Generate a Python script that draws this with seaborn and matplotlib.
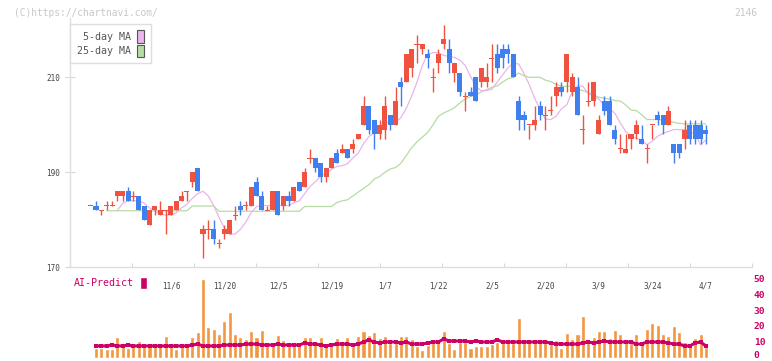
import numpy as np
import pandas as pd
import seaborn as sns
import matplotlib.pyplot as plt
import matplotlib.transforms as mtransforms
from matplotlib.patches import Patch

# daily candles, oldest first
opens = [183, 183, 182, 183, 183, 185, 185, 186, 185, 185, 183, 179, 182, 181, 182, 181, 182, 184, 186, 188,
         191, 177, 178, 178, 175, 177, 177, 181, 183, 183, 183, 188, 185, 182, 182, 186, 183, 185, 184, 188,
         187, 193, 193, 192, 189, 191, 194, 194, 195, 195, 197, 200, 204, 201, 198, 199, 202, 200, 209, 209,
         212, 217, 216, 215, 210, 213, 217, 216, 211, 211, 206, 207, 210, 209, 209, 214, 215, 216, 216, 215,
         205, 202, 200, 200, 204, 202, 203, 206, 208, 209, 207, 208, 199, 205, 205, 198, 205, 205, 199, 195,
         194, 197, 198, 197, 195, 200, 202, 202, 200, 196, 196, 197, 200, 200, 200, 199]
highs = [183, 184, 182, 184, 184, 186, 186, 187, 186, 185, 183, 182, 183, 184, 182, 183, 184, 186, 186, 190,
         191, 179, 180, 180, 176, 179, 180, 183, 184, 184, 187, 189, 186, 183, 186, 186, 185, 186, 187, 188,
         191, 195, 193, 192, 191, 193, 195, 196, 195, 197, 198, 206, 204, 201, 201, 206, 202, 208, 210, 215,
         216, 219, 217, 216, 212, 216, 221, 218, 213, 211, 207, 208, 210, 212, 213, 217, 217, 217, 217, 215,
         206, 203, 200, 204, 205, 204, 206, 209, 209, 215, 211, 210, 202, 209, 209, 202, 206, 206, 200, 198,
         198, 198, 201, 200, 196, 200, 203, 202, 204, 196, 196, 201, 201, 201, 201, 200]
lows = [183, 182, 181, 182, 183, 184, 184, 184, 184, 182, 180, 179, 181, 181, 177, 181, 182, 184, 184, 187,
        186, 172, 176, 175, 174, 176, 177, 180, 181, 182, 183, 185, 182, 182, 182, 181, 182, 183, 184, 186,
        187, 192, 190, 188, 188, 191, 192, 194, 193, 194, 197, 200, 198, 195, 197, 197, 199, 200, 204, 209,
        210, 213, 215, 212, 207, 211, 216, 211, 209, 206, 203, 206, 205, 208, 208, 209, 211, 212, 213, 210,
        199, 199, 197, 199, 201, 199, 202, 204, 206, 207, 206, 202, 196, 204, 204, 198, 202, 200, 196, 194,
        194, 195, 197, 196, 192, 197, 200, 198, 200, 192, 193, 195, 196, 196, 196, 196]
closes = [183, 182, 182, 183, 183, 186, 186, 184, 185, 182, 180, 182, 183, 182, 182, 183, 184, 185, 186, 190,
          186, 178, 178, 176, 175, 178, 180, 181, 182, 183, 187, 185, 182, 182, 186, 181, 185, 184, 187, 186,
          190, 193, 191, 189, 191, 193, 192, 195, 193, 196, 198, 204, 199, 198, 200, 204, 200, 205, 208, 215,
          216, 217, 217, 214, 210, 215, 218, 213, 213, 207, 206, 206, 205, 212, 210, 214, 212, 214, 215, 210,
          201, 201, 200, 201, 202, 202, 203, 208, 207, 215, 210, 202, 199, 205, 209, 201, 203, 200, 197, 195,
          195, 198, 200, 196, 195, 200, 201, 200, 203, 194, 194, 199, 197, 197, 197, 198]

# moving averages as drawn (5-day starts at day 5, 25-day at day 3)
ma5 = [182.0, 183.5, 184.0, 184.0, 184.0, 183.5, 182.5, 181.8, 181.2, 181.0, 181.0, 181.5, 182.5, 183.3, 184.5,
       185.5, 186.0, 185.0, 183.0, 180.5, 178.2, 177.0, 177.0, 178.0, 179.5, 181.5, 182.8, 183.0, 183.0, 183.0,
       183.0, 183.0, 183.0, 183.6, 184.0, 185.5, 187.0, 188.0, 189.2, 189.8, 190.6, 191.2, 191.4, 191.8, 193.0,
       194.0, 196.0, 197.5, 198.3, 199.5, 200.5, 200.5, 200.5, 201.5, 203.5, 206.0, 209.0, 212.5, 214.8, 215.2,
       215.2, 214.6, 214.4, 214.2, 213.6, 212.5, 210.2, 208.0, 207.2, 207.2, 207.5, 209.0, 210.5, 212.0, 213.0,
       212.8, 210.8, 208.4, 205.6, 203.2, 201.2, 201.1, 201.8, 203.4, 204.2, 207.0, 208.2, 208.1, 206.6, 206.0,
       205.4, 204.0, 203.4, 202.4, 200.4, 198.6, 197.6, 197.2, 196.8, 195.8, 196.6, 197.6, 198.2, 198.6, 199.0,
       199.0, 199.0, 198.6, 198.0, 195.8, 196.8]
ma25 = [181.9] * 16 + [182.9] * 5 + [181.8] * 16 + [182.8] * 6 + [
        183.6, 184.0, 184.2, 185.0, 185.8, 186.6, 187.4, 188.6, 189.1, 190.0, 190.7, 191.0, 191.9, 193.5, 195.2,
        196.4, 197.4, 198.4, 200.0, 201.8, 202.5, 203.0, 203.6, 204.6, 205.4, 206.0, 206.3, 206.9, 207.4, 207.9,
        208.2, 209.0, 209.7, 210.0, 210.9, 210.3, 210.0, 210.0, 210.0, 209.4, 209.1, 208.5, 208.1, 208.1, 208.1,
        207.5, 207.2, 206.8, 206.3, 205.8, 205.6, 205.4, 205.1, 205.0, 204.2, 203.1, 203.0, 202.1, 201.1, 201.1,
        201.1, 201.0, 200.9, 200.5, 200.3, 200.2, 200.2, 200.2, 200.2, 200.2]

# lower panel, from day 1
volume = [6.1, 6.1, 5.5, 5.5, 13.1, 8.0, 6.1, 8.0, 10.5, 9.3, 7.4, 7.4, 7.4, 13.7, 7.4, 5.5, 7.4, 7.4, 13.1, 16.2,
          49.6, 19.4, 18.1, 15.0, 23.2, 28.8, 15.0, 13.1, 11.8, 16.8, 13.1, 17.5, 9.9, 8.6, 14.3, 11.2, 7.4, 8.6,
          8.6, 13.1, 13.1, 9.9, 13.1, 7.4, 9.3, 12.4, 9.9, 13.1, 7.4, 13.7, 16.8, 14.3, 16.2, 12.4, 13.7, 9.3,
          9.9, 13.7, 13.7, 11.8, 7.4, 4.9, 8.0, 9.9, 9.9, 16.8, 9.3, 5.5, 9.9, 9.9, 6.1, 7.4, 7.4, 7.4, 8.6, 9.9,
          9.9, 9.9, 9.3, 25.0, 9.9, 11.8, 9.9, 9.9, 9.9, 9.9, 11.2, 6.1, 15.6, 11.8, 15.0, 26.3, 11.8, 13.1, 16.8,
          16.8, 12.4, 17.5, 15.0, 10.5, 9.3, 15.0, 9.3, 18.1, 22.1, 20.6, 15.0, 13.7, 20.0, 16.2, 9.9, 8.6, 12.4,
          15.0, 6.7]
ai_predict = [7.4, 7.4, 7.4, 8.0, 7.4, 7.4, 8.0, 7.4, 7.4, 7.4, 7.4, 7.4, 7.4, 7.4, 7.4, 7.4, 7.4, 7.4, 8.0, 8.6,
              7.4, 7.4, 7.4, 7.4, 8.0, 8.0, 8.0, 8.0, 8.6, 8.6, 8.6, 8.0, 8.0, 8.0, 8.6, 8.0, 8.0, 8.0, 8.0, 9.3,
              8.6, 8.6, 8.0, 7.4, 8.0, 8.6, 8.6, 8.6, 8.0, 8.6, 9.9, 11.2, 9.9, 9.3, 9.9, 9.9, 9.9, 9.3, 9.9, 8.6,
              8.6, 8.6, 9.3, 9.9, 9.9, 11.8, 10.5, 10.5, 10.5, 10.5, 9.9, 10.5, 9.9, 9.9, 9.9, 11.2, 9.9, 9.9, 9.9,
              9.9, 9.9, 9.9, 9.9, 9.9, 9.9, 9.3, 8.6, 8.6, 8.6, 8.6, 8.6, 9.3, 9.9, 9.3, 9.9, 10.5, 9.9, 9.9, 9.9,
              9.9, 9.9, 8.6, 8.6, 9.9, 9.9, 9.9, 9.9, 9.3, 8.6, 8.6, 7.4, 7.4, 9.3, 9.9, 7.4]

date_labels = ["11/6", "11/20", "12/5", "12/19", "1/7", "1/22", "2/5", "2/20", "3/9", "3/24", "4/7"]
label_days = [15, 25, 35, 45, 55, 65, 75, 85, 95, 105, 115]

RED = "#f0523f"
BLUE = "#3f7ff0"
PINK = "#e9b5ea"
GREEN = "#b5dca5"
ORANGE = "#f2963f"
MAGENTA = "#cc0066"
MONO = ["DejaVu Sans Mono"]

sns.set_theme(style="white")
plt.rcParams["font.family"] = MONO

n = len(opens)
days = np.arange(n)
o, h, l, c = map(np.array, (opens, highs, lows, closes))

W, H = 772, 361
fig = plt.figure(figsize=(W / 100, H / 100), dpi=100)
fig.patch.set_facecolor("white")
ax = fig.add_axes([70.3 / W, 1 - 267.3 / H, 682 / W, 249.3 / H])
ax2 = fig.add_axes([70.3 / W, 1 - 357.7 / H, 682 / W, 79.4 / H])
xlim = ((70.3 - 90.65) / 5.35, (752.3 - 90.65) / 5.35)

# moving averages
ma5_df = pd.DataFrame({"day": days[n - len(ma5):], "ma": ma5})
ma25_df = pd.DataFrame({"day": days[n - len(ma25):], "ma": ma25})
sns.lineplot(data=ma25_df, x="day", y="ma", color=GREEN, linewidth=0.9, ax=ax, zorder=1)
sns.lineplot(data=ma5_df, x="day", y="ma", color=PINK, linewidth=0.9, ax=ax, zorder=1)

# candles
up = c >= o
cols = np.where(up, RED, BLUE)
ax.vlines(days, l, h, colors=cols, linewidth=1, zorder=2)
body = np.abs(c - o).astype(float)
bottom = np.minimum(o, c).astype(float)
doji = body == 0
body[doji] = 0.22
bottom[doji] -= 0.11
ax.bar(days, body, bottom=bottom, width=0.95, color=cols, linewidth=0, zorder=3)

ax.set_xlim(*xlim)
ax.set_ylim(170, 170 + 249.3 / 4.75)
ax.set_xlabel("")
ax.set_ylabel("")
ax.set_yticks([170, 190, 210])
ax.tick_params(axis="y", direction="inout", length=6.5, width=0.8, color="#d8d8d8",
               labelsize=5.5, labelcolor="#444444", pad=4, left=True)
ax.set_xticks(label_days)
ax.set_xticklabels(date_labels)
ax.set_xticks(np.linspace(xlim[0], xlim[1], 12), minor=True)
ax.tick_params(axis="x", which="major", length=0, labelsize=5.5, labelcolor="#444444", pad=10)
ax.tick_params(axis="x", which="minor", direction="in", length=3, width=0.8, color="#d8d8d8", bottom=True)
for side in ["top", "right"]:
    ax.spines[side].set_visible(False)
for side in ["left", "bottom"]:
    ax.spines[side].set_color("#dedede")
    ax.spines[side].set_linewidth(1)

handles = [Patch(facecolor=PINK, edgecolor="#555555", linewidth=0.8, label="5-day MA"),
           Patch(facecolor=GREEN, edgecolor="#555555", linewidth=0.8, label="25-day MA")]
leg = ax.legend(handles=handles, loc="upper left", bbox_to_anchor=(70.3 / W, 1 - 24 / H),
                bbox_transform=fig.transFigure, markerfirst=False, prop={"family": MONO, "size": 7.2},
                handlelength=0.7, handleheight=1.5, handletextpad=0.65, labelspacing=0.2,
                borderpad=0.65, borderaxespad=0, frameon=True, fancybox=False,
                edgecolor="#dedede", framealpha=1, labelcolor="#555555")
leg.get_frame().set_linewidth(1)

# lower panel: bars and forecast line
vol_df = pd.DataFrame({"day": days[1:], "volume": volume, "ai": ai_predict})
sns.barplot(data=vol_df, x="day", y="volume", native_scale=True, color=ORANGE, saturation=1,
            width=0.75, errorbar=None, ax=ax2, zorder=1)
sns.lineplot(data=vol_df, x="day", y="ai", color=MAGENTA, linewidth=2.2, marker="s",
             markersize=2.6, markeredgewidth=0, ax=ax2, zorder=2)
ax2.set_xlim(*xlim)
ax2.set_ylim(0, 50)
ax2.set_xlabel("")
ax2.set_ylabel("")
ax2.set_xticks([])
ax2.yaxis.tick_right()
ax2.set_yticks([0, 10, 20, 30, 40, 50])
ax2.tick_params(axis="y", length=0, pad=1, labelsize=6.8, labelcolor=MAGENTA, right=False)
for lab in ax2.get_yticklabels():
    lab.set_fontweight("bold")
# keep the bottom label inside the picture
zero_lab = ax2.get_yticklabels()[0]
zero_lab.set_transform(zero_lab.get_transform()
                       + mtransforms.ScaledTranslation(0, 2.2 / 72, fig.dpi_scale_trans))
for side in ax2.spines.values():
    side.set_visible(False)
ax2.patch.set_alpha(0)

leg2 = ax2.legend(handles=[Patch(facecolor=MAGENTA, label="AI-Predict")], loc="upper left",
                  bbox_to_anchor=(71 / W, 1 - 274 / H), bbox_transform=fig.transFigure,
                  markerfirst=False, prop={"family": MONO, "size": 7.2}, handlelength=0.7,
                  handleheight=1.5, handletextpad=0.6, borderpad=0.3, borderaxespad=0,
                  frameon=False, labelcolor=MAGENTA)

fig.text(14 / W, 1 - 12.5 / H, "(C)https://chartnavi.com/", fontsize=6.9, color="#c8c8c8",
         va="center", ha="left", family=MONO)
fig.text(757 / W, 1 - 12.5 / H, "2146", fontsize=6.9, color="#c8c8c8", va="center", ha="right",
         family=MONO)

plt.savefig("out.png", dpi=100)
